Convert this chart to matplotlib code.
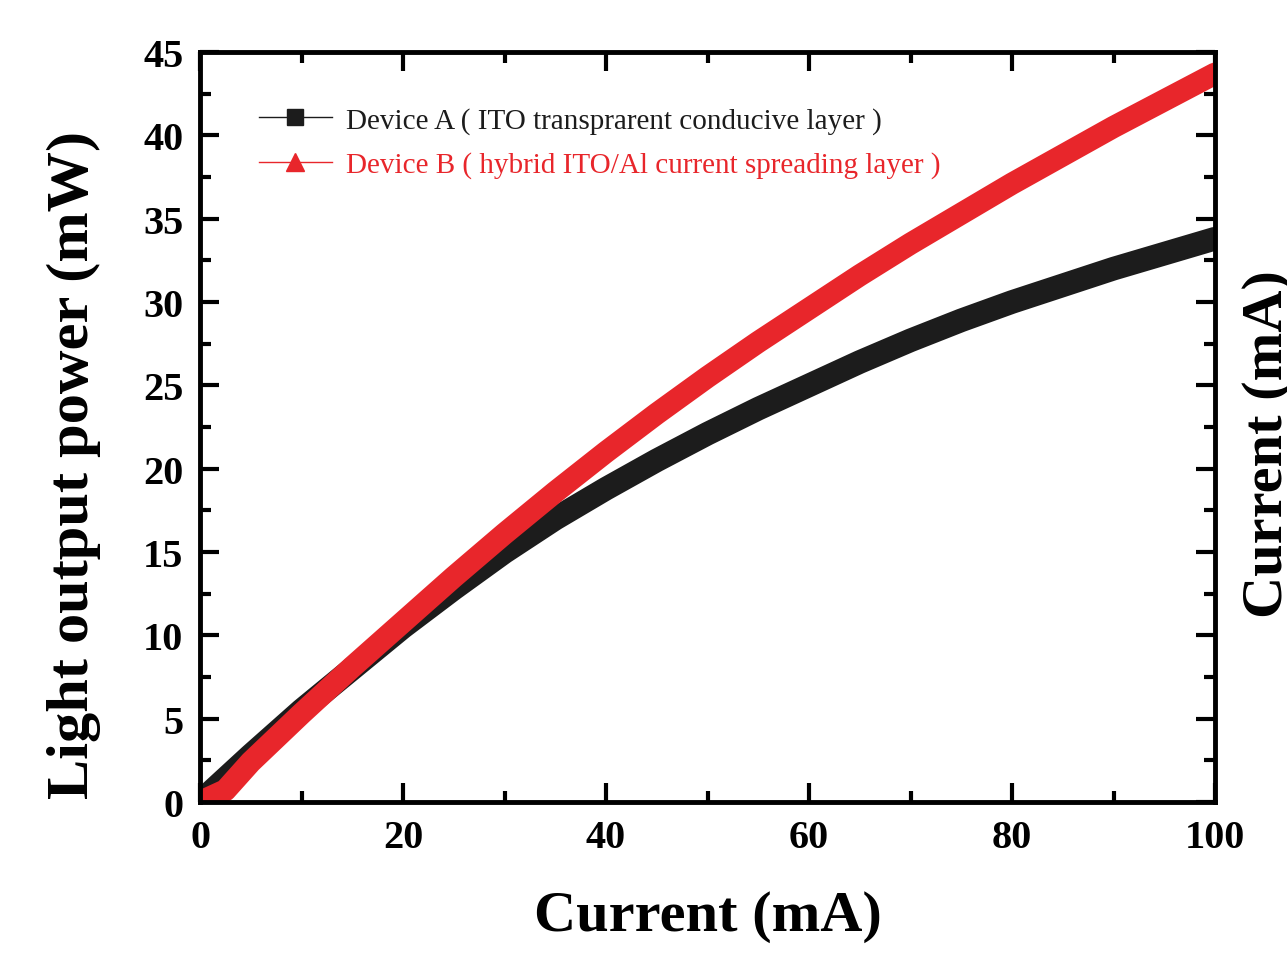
import matplotlib
matplotlib.use('Agg')
import matplotlib.pyplot as plt
from matplotlib.lines import Line2D
from matplotlib.ticker import MultipleLocator

# light output power vs. injection current
current = [0, 2.5, 5, 10, 15, 20, 25, 30, 35, 40, 45, 50,
           55, 60, 65, 70, 75, 80, 85, 90, 95, 100]
power_a = [0, 1.4, 2.8, 5.5, 8.0, 10.5, 12.8, 15.0, 17.0, 18.8, 20.5, 22.1,
           23.6, 25.0, 26.4, 27.7, 28.9, 30.0, 31.0, 32.0, 32.9, 33.8]
power_b = [0, 0.7, 2.4, 5.3, 8.1, 10.8, 13.5, 16.1, 18.6, 21.0, 23.3, 25.5,
           27.6, 29.6, 31.6, 33.5, 35.3, 37.1, 38.8, 40.5, 42.1, 43.7]
labels = ['Device A ( ITO transprarent conducive layer )',
          'Device B ( hybrid ITO/Al current spreading layer )']

black = '#1c1c1c'
red = '#e8262b'
serif = ['Liberation Serif', 'DejaVu Serif']

fig = plt.figure(figsize=(12.87, 9.54), dpi=100)
ax = fig.add_axes([200 / 1287, 151 / 954, 1015 / 1287, 750 / 954])

ax.plot(current, power_a, color=black, lw=17, solid_capstyle='round',
        solid_joinstyle='round')
ax.plot(current, power_b, color=red, lw=16, solid_capstyle='round',
        solid_joinstyle='round')

ax.set_xlim(0, 100)
ax.set_ylim(0, 45)
ax.xaxis.set_major_locator(MultipleLocator(20))
ax.xaxis.set_minor_locator(MultipleLocator(10))
ax.yaxis.set_major_locator(MultipleLocator(5))
ax.yaxis.set_minor_locator(MultipleLocator(2.5))
ax.tick_params(which='both', direction='in', top=True, right=True, width=3)
ax.tick_params(which='major', length=14, pad=12)
ax.tick_params(which='minor', length=8)
for s in ax.spines.values():
    s.set_linewidth(3.5)
for t in ax.get_xticklabels() + ax.get_yticklabels():
    t.set_family(serif)
    t.set_fontweight('bold')
    t.set_fontsize(29)

ax.set_xlabel('Current (mA)', family=serif, fontweight='bold', fontsize=42)
ax.xaxis.set_label_coords(0.5, -0.118)
ax.set_ylabel('Light output power (mW)', family=serif, fontweight='bold',
              fontsize=43.5)
ax.yaxis.set_label_coords(-0.098, 0.451)

# second-axis label, partly cut off at the right edge
fig.text(1242 / 1287, 0.535, 'Current (mA)', rotation=90, ha='left',
         va='center', family=serif, fontweight='bold', fontsize=42)

handles = [Line2D([], [], color=black, lw=1, marker='s', ms=11),
           Line2D([], [], color=red, lw=1, marker='^', ms=13)]
leg = ax.legend(handles, labels, loc='upper left',
                bbox_to_anchor=(0.032, 0.962), frameon=False,
                prop={'family': serif, 'size': 21}, handlelength=2.5,
                labelspacing=0.6, handletextpad=0.5)
for txt, c in zip(leg.get_texts(), [black, red]):
    txt.set_color(c)

fig.savefig('out.png', dpi=100)
